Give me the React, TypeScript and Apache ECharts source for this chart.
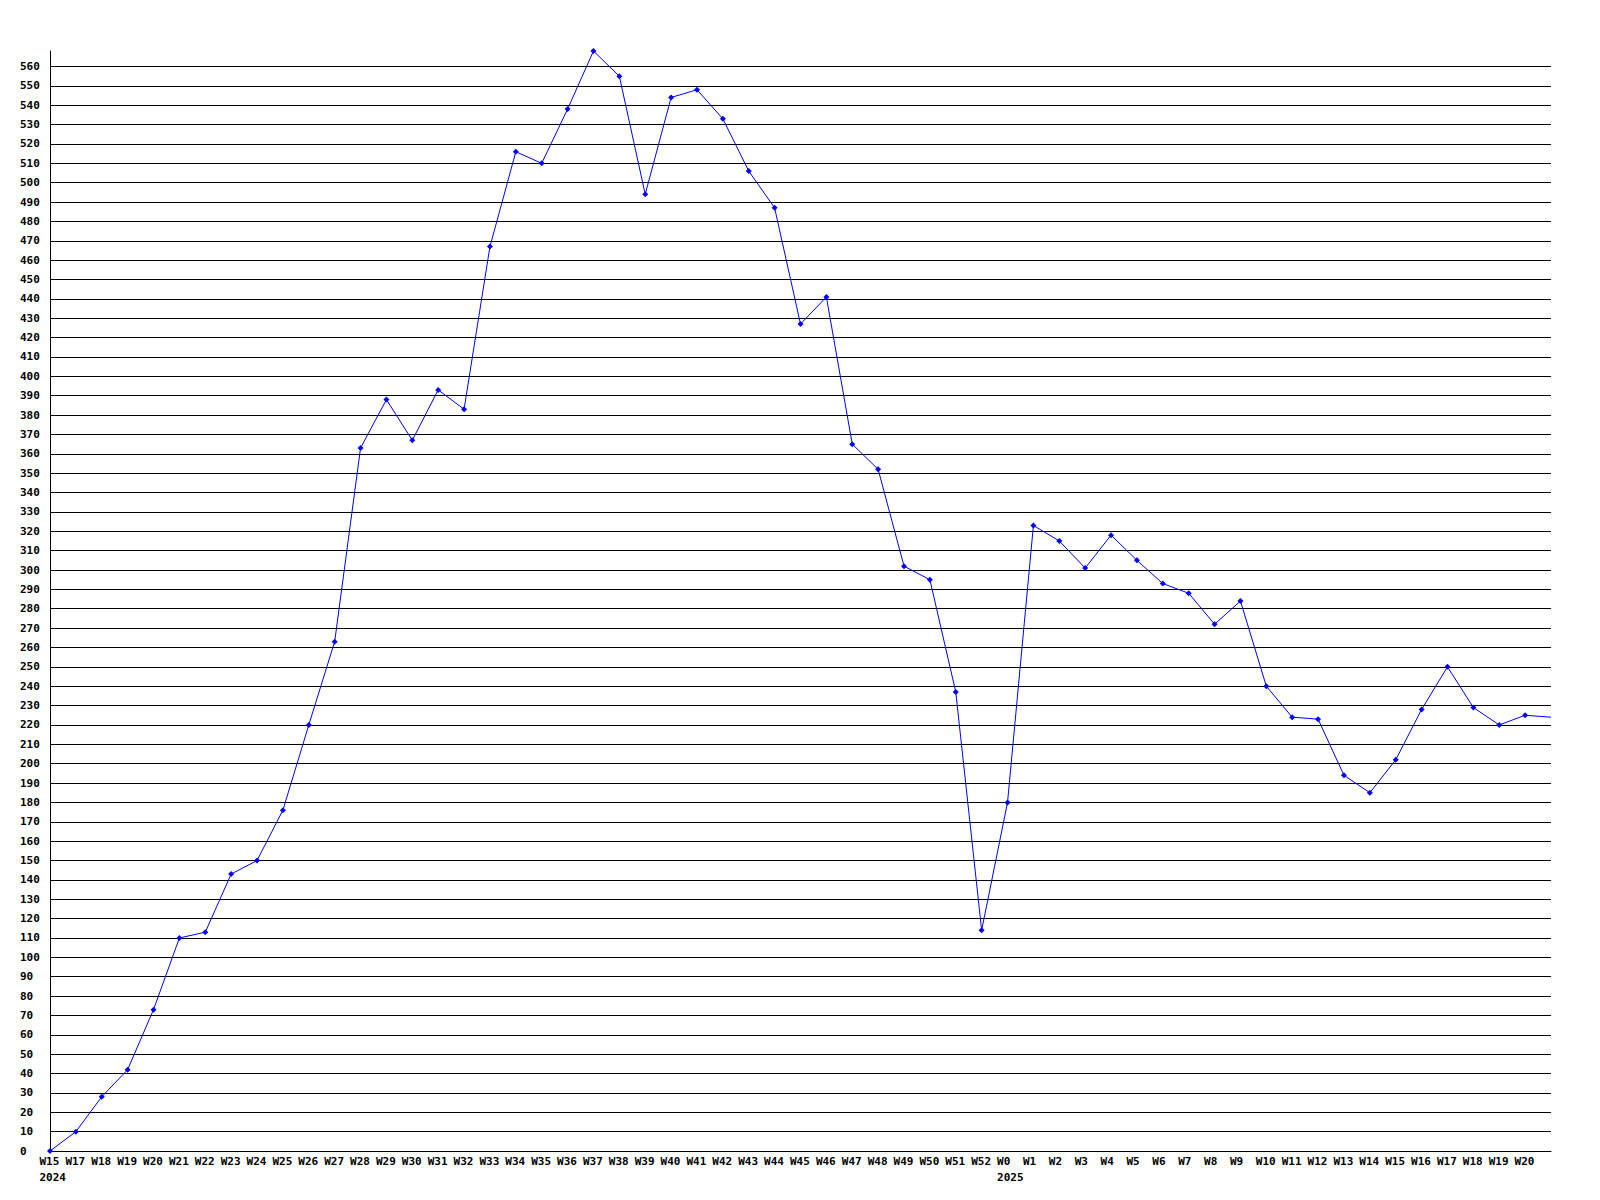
import React, { useEffect, useRef } from "react";
import * as echarts from "echarts";

const weeks: string[] = [
  "W15", "W17", "W18", "W19", "W20", "W21", "W22", "W23", "W24", "W25", "W26", "W27",
  "W28", "W29", "W30", "W31", "W32", "W33", "W34", "W35", "W36", "W37", "W38", "W39",
  "W40", "W41", "W42", "W43", "W44", "W45", "W46", "W47", "W48", "W49", "W50", "W51",
  "W52", "W0", "W1", "W2", "W3", "W4", "W5", "W6", "W7", "W8", "W9", "W10", "W11",
  "W12", "W13", "W14", "W15", "W16", "W17", "W18", "W19", "W20", "W21",
];

const values: number[] = [
  0, 10, 28, 42, 73, 110, 113, 143, 150, 176, 220, 263,
  363, 388, 367, 393, 383, 467, 516, 510, 538, 568, 555, 494,
  544, 548, 533, 506, 487, 427, 441, 365, 352, 302, 295, 237,
  114, 180, 323, 315, 301, 318, 305, 293, 288, 272, 284, 240, 224,
  223, 194, 185, 202, 228, 250, 229, 220, 225, 224,
];

// index -> year label shown under the week label
const yearLabels: Record<number, string> = { 0: "2024", 37: "2025" };
// last category lies on the plot edge; its label and marker are not shown
const hiddenIndex = weeks.length - 1;

const FONT = "'DejaVu Sans Mono', monospace";

export default function App() {
  const ref = useRef<HTMLDivElement>(null);
  useEffect(() => {
    if (!ref.current) return;
    const chart = echarts.init(ref.current, null, { renderer: "svg" });
    const labelStyle = {
      fontFamily: FONT,
      fontSize: 11,
      fontWeight: "bold" as const,
      color: "#000",
      width: 21,
      align: "left" as const,
      lineHeight: 16,
    };
    chart.setOption({
      animation: false,
      backgroundColor: "#fff",
      grid: { left: 50, right: 49, top: 51, bottom: 49, containLabel: false },
      xAxis: {
        type: "category",
        data: weeks,
        boundaryGap: false,
        axisLine: { show: true, lineStyle: { color: "#000", width: 1 } },
        axisTick: { show: false },
        splitLine: { show: false },
        axisLabel: {
          interval: 0,
          margin: 2,
          align: "center",
          fontFamily: FONT,
          fontSize: 11,
          fontWeight: "bold",
          color: "#000",
          formatter: (v: string, i: number) => {
            if (i === hiddenIndex) return "";
            const y = yearLabels[i];
            return y ? `{w|${v}}\n{w|${y}}` : `{w|${v}}`;
          },
          rich: { w: labelStyle },
        },
      },
      yAxis: {
        type: "value",
        min: 0,
        max: "dataMax",
        interval: 10,
        axisLine: { show: true, lineStyle: { color: "#000", width: 1 } },
        axisTick: { show: false },
        splitLine: {
          show: true,
          showMinLine: false,
          showMaxLine: false,
          lineStyle: { color: "#000", width: 1 },
        },
        axisLabel: {
          margin: 30,
          align: "left",
          showMaxLabel: false,
          fontFamily: FONT,
          fontSize: 11,
          fontWeight: "bold",
          color: "#000",
          formatter: (v: number) => (v % 10 === 0 ? String(v) : ""),
        },
      },
      series: [
        {
          type: "line",
          data: values.map((v, i) =>
            i === hiddenIndex ? { value: v, symbol: "none" } : v
          ),
          symbol: "diamond",
          symbolSize: 6,
          showAllSymbol: true,
          clip: true,
          lineStyle: { color: "#0000ff", width: 1 },
          itemStyle: { color: "#0000ff" },
        },
      ],
    });
    return () => chart.dispose();
  }, []);
  return (
    <div
      ref={ref}
      style={{ position: "fixed", left: 0, top: 0, width: 1600, height: 1200 }}
    />
  );
}
